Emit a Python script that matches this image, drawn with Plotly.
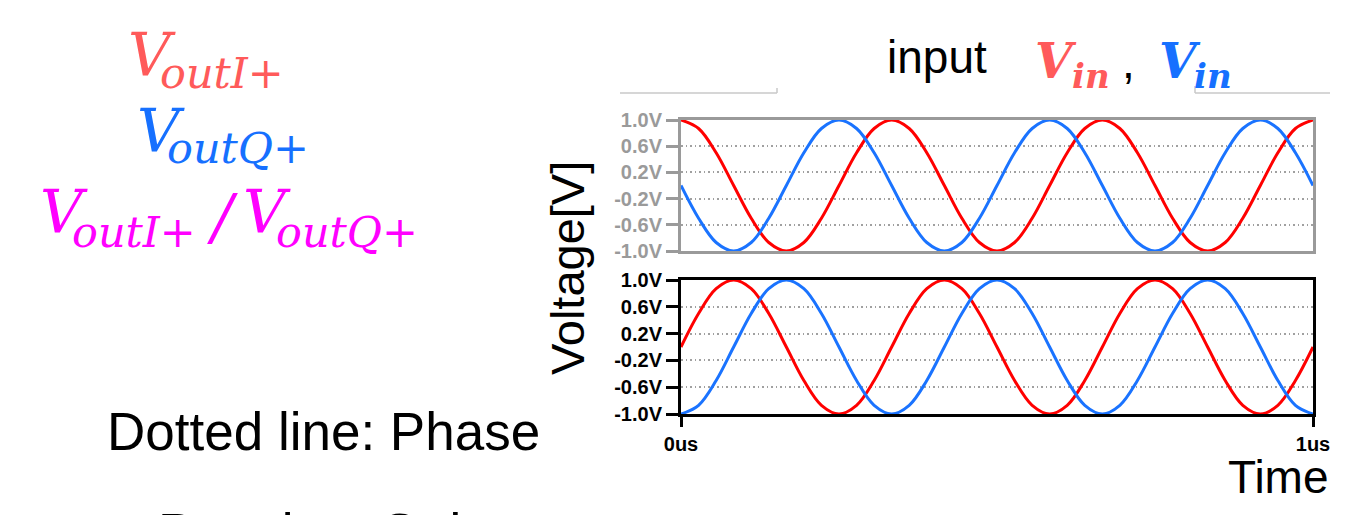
import plotly.graph_objects as go

W, H = 1356, 515

# ---- data ----
time_us = [0.0, 0.0278, 0.0556, 0.0833, 0.1111, 0.1389, 0.1667, 0.1944, 0.2222, 0.25,
           0.2778, 0.3056, 0.3333, 0.3611, 0.3889, 0.4167, 0.4444, 0.4722, 0.5, 0.5278,
           0.5556, 0.5833, 0.6111, 0.6389, 0.6667, 0.6944, 0.7222, 0.75, 0.7778, 0.8056,
           0.8333, 0.8611, 0.8889, 0.9167, 0.9444, 0.9722, 1.0]
input_red = [1.0, 0.87, 0.5, 0.0, -0.5, -0.87, -1.0, -0.87, -0.5, 0.0, 0.5, 0.87,
             1.0, 0.87, 0.5, 0.0, -0.5, -0.87, -1.0, -0.87, -0.5, 0.0, 0.5, 0.87,
             1.0, 0.87, 0.5, 0.0, -0.5, -0.87, -1.0, -0.87, -0.5, 0.0, 0.5, 0.87, 1.0]
input_blue = [0.0, -0.5, -0.87, -1.0, -0.87, -0.5, 0.0, 0.5, 0.87, 1.0, 0.87, 0.5,
              0.0, -0.5, -0.87, -1.0, -0.87, -0.5, 0.0, 0.5, 0.87, 1.0, 0.87, 0.5,
              0.0, -0.5, -0.87, -1.0, -0.87, -0.5, 0.0, 0.5, 0.87, 1.0, 0.87, 0.5, 0.0]
output_red = [0.0, 0.5, 0.87, 1.0, 0.87, 0.5, 0.0, -0.5, -0.87, -1.0, -0.87, -0.5,
              0.0, 0.5, 0.87, 1.0, 0.87, 0.5, 0.0, -0.5, -0.87, -1.0, -0.87, -0.5,
              0.0, 0.5, 0.87, 1.0, 0.87, 0.5, 0.0, -0.5, -0.87, -1.0, -0.87, -0.5, 0.0]
output_blue = [-1.0, -0.87, -0.5, 0.0, 0.5, 0.87, 1.0, 0.87, 0.5, 0.0, -0.5, -0.87,
               -1.0, -0.87, -0.5, 0.0, 0.5, 0.87, 1.0, 0.87, 0.5, 0.0, -0.5, -0.87,
               -1.0, -0.87, -0.5, 0.0, 0.5, 0.87, 1.0, 0.87, 0.5, 0.0, -0.5, -0.87, -1.0]
y_tick_vals = [-1.0, -0.6, -0.2, 0.2, 0.6, 1.0]
y_tick_text = ["-1.0V", "-0.6V", "-0.2V", "0.2V", "0.6V", "1.0V"]
x_tick_vals = [0, 1]
x_tick_text = ["0us", "1us"]

RED = "#ff0000"
BLUE = "#1a73ff"
TXT_RED = "#ff5a5a"
TXT_BLUE = "#1670ff"
MAGENTA = "#ff00ff"
GRAY = "#9a9a9a"

def px(x):
    return x / W

def py(y):
    return 1 - y / H

fig = go.Figure()
for ys, col in [(input_red, RED), (input_blue, BLUE)]:
    fig.add_trace(go.Scatter(x=time_us, y=ys, mode="lines", line=dict(color=col, width=3, shape="spline"),
                             xaxis="x", yaxis="y", cliponaxis=False, showlegend=False, hoverinfo="skip"))
for ys, col in [(output_red, RED), (output_blue, BLUE)]:
    fig.add_trace(go.Scatter(x=time_us, y=ys, mode="lines", line=dict(color=col, width=3, shape="spline"),
                             xaxis="x2", yaxis="y2", cliponaxis=False, showlegend=False, hoverinfo="skip"))

xdom = [px(681), px(1313)]
top_dom = [py(251), py(120)]
bot_dom = [py(414), py(280)]

def yax(dom, color, anchor):
    return dict(domain=dom, range=[-1, 1], anchor=anchor, showline=True, linecolor=color, linewidth=3,
                mirror=True, ticks="outside", ticklen=12, tickwidth=3, tickcolor=color, automargin=False,
                tickvals=y_tick_vals, ticktext=["<b>%s</b>" % t for t in y_tick_text],
                tickfont=dict(family="Liberation Sans, Arial", size=20, color=color),
                showgrid=True, gridcolor="#a0a0a0", gridwidth=1.5, griddash="1.5px,3px",
                zeroline=False, fixedrange=True)

layout = dict(
    template="none",
    width=W, height=H, autosize=False,
    margin=dict(l=0, r=0, t=0, b=0, pad=0),
    paper_bgcolor="white", plot_bgcolor="white",
    xaxis=dict(domain=xdom, range=[0, 1], anchor="y", showline=True, linecolor=GRAY, linewidth=3,
               mirror=True, showticklabels=False, ticks="", showgrid=False, zeroline=False,
               automargin=False, fixedrange=True),
    yaxis=yax(top_dom, GRAY, "x"),
    xaxis2=dict(domain=xdom, range=[0, 1], anchor="y2", showline=True, linecolor="black", linewidth=3,
                mirror=True, ticks="outside", ticklen=10, tickwidth=3, tickcolor="black", automargin=False,
                tickvals=x_tick_vals, ticktext=["<b>%s</b>" % t for t in x_tick_text],
                tickfont=dict(family="Liberation Sans, Arial", size=20, color="black"),
                showgrid=False, zeroline=False, fixedrange=True),
    yaxis2=yax(bot_dom, "black", "x2"),
)
fig.update_layout(**layout)

anns = []

def text(t, x, base, size, color, family, style="normal", weight="normal", anchor="left"):
    # y given as baseline in pixels; annotation centred vertically on font box
    yc = base - 0.346 * size
    anns.append(dict(text=t, x=px(x), y=py(yc), xref="paper", yref="paper", xanchor=anchor,
                     yanchor="middle", showarrow=False, borderpad=0,
                     font=dict(family=family, size=size, color=color, style=style, weight=weight)))

SERIF = "DejaVu Serif"
SANS = "Liberation Sans, Arial"
# left formulas
text("V", 127, 76, 59, TXT_RED, SERIF, "italic")
text("outI+", 159, 88, 43, TXT_RED, SERIF, "italic")
text("V", 136, 152, 59, TXT_BLUE, SERIF, "italic")
text("outQ+", 166, 163, 43, TXT_BLUE, SERIF, "italic")
text("V", 39, 233, 59, MAGENTA, SERIF, "italic")
text("outI+", 71, 247, 43, MAGENTA, SERIF, "italic")
text("/", 206, 238, 62, MAGENTA, SERIF, "italic")
text("V", 242, 233, 59, MAGENTA, SERIF, "italic")
text("outQ+", 275, 247, 43, MAGENTA, SERIF, "italic")
# bottom-left notes
text("Dotted line: Phase", 106, 450, 53, "black", SANS)
text("Practice: Gain", 157, 551, 53, "black", SANS)
# title
text("input", 886, 73, 46, "black", SANS)
text("V", 1034, 78, 48, TXT_RED, SERIF, "italic", "bold")
text("in", 1071, 88, 34, TXT_RED, SERIF, "italic", "bold")
text(",", 1121, 78, 46, "black", SANS)
text("V", 1158, 78, 48, TXT_BLUE, SERIF, "italic", "bold")
text("in", 1193, 88, 34, TXT_BLUE, SERIF, "italic", "bold")
# axis titles
text("Time", 1330, 493, 46, "black", SANS, anchor="right")
anns.append(dict(text="Voltage[V]", x=px(567), y=py(268), xref="paper", yref="paper", xanchor="center",
                 yanchor="middle", textangle=-90, showarrow=False, borderpad=0,
                 font=dict(family=SANS, size=47, color="black")))
fig.update_layout(annotations=anns)

# decorative text-box border fragments near the title
shapes = []
for x0, y0, x1, y1 in [(620, 93, 777, 93), (777, 93, 777, 88), (1195, 93, 1330, 93), (1195, 93, 1195, 86)]:
    shapes.append(dict(type="line", xref="paper", yref="paper", x0=px(x0), y0=py(y0), x1=px(x1), y1=py(y1),
                       line=dict(color="#c8c8c8", width=1.5)))
fig.update_layout(shapes=shapes)

fig.write_html("out.html", config={"displayModeBar": False},
               post_script="document.body.style.margin='0px';document.body.style.overflow='hidden';")
